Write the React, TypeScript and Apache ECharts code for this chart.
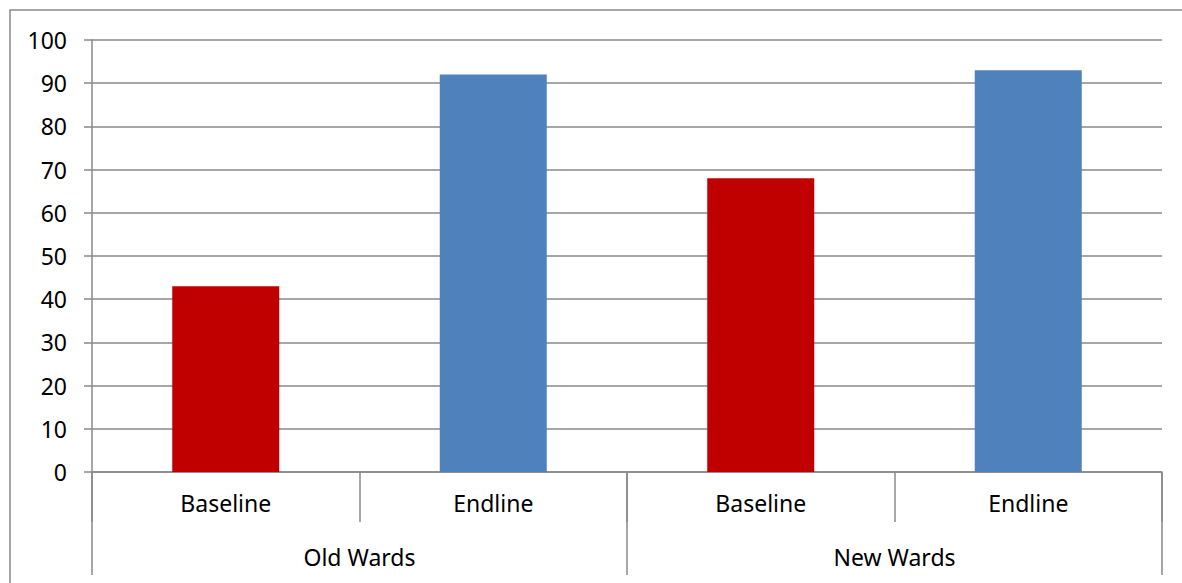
import React, { useEffect, useRef } from "react";
import * as echarts from "echarts";

const innerCategories = ["Baseline", "Endline", "Baseline", "Endline"];
const outerCategories = ["Old Wards", "New Wards"];
const values = [43, 92, 68, 93];
const barColors = ["#C00000", "#4F81BD", "#C00000", "#4F81BD"];
const yTicks = { min: 0, max: 100, interval: 10 };

const FONT = "Noto Sans";
const GRAY = "#898989";

export default function App() {
  const ref = useRef<HTMLDivElement>(null);
  useEffect(() => {
    if (!ref.current) return;
    const chart = echarts.init(ref.current, undefined, { renderer: "svg" });
    chart.setOption({
      animation: false,
      backgroundColor: "#ffffff",
      textStyle: { fontFamily: FONT },
      graphic: [
        {
          type: "rect",
          shape: { x: 10, y: 10, width: 1200, height: 600 },
          style: { fill: "none", stroke: GRAY, lineWidth: 1.5 },
          silent: true,
        },
      ],
      grid: { left: 92, right: 20, top: 40, bottom: 111, containLabel: false },
      xAxis: [
        {
          type: "category",
          data: innerCategories,
          position: "bottom",
          axisLine: { show: true, lineStyle: { color: GRAY, width: 1.5 } },
          axisTick: { show: true, interval: 0, length: 50, lineStyle: { color: GRAY, width: 1.5 } },
          axisLabel: { interval: 0, margin: 19, fontSize: 23, color: "#000", fontFamily: FONT },
          splitLine: { show: false },
        },
        {
          type: "category",
          data: outerCategories,
          position: "bottom",
          axisLine: { show: false },
          axisTick: { show: true, interval: 0, length: 103, lineStyle: { color: GRAY, width: 1.5 } },
          axisLabel: { interval: 0, margin: 73, fontSize: 23, color: "#000", fontFamily: FONT },
          splitLine: { show: false },
        },
      ],
      yAxis: {
        type: "value",
        min: yTicks.min,
        max: yTicks.max,
        interval: yTicks.interval,
        axisLine: { show: true, lineStyle: { color: GRAY, width: 1.5 } },
        axisTick: { show: true, inside: false, length: 8, lineStyle: { color: GRAY, width: 1.5 } },
        axisLabel: { margin: 25, fontSize: 23, color: "#000", fontFamily: FONT },
        splitLine: { show: true, lineStyle: { color: GRAY, width: 1.5 } },
      },
      series: [
        {
          type: "bar",
          xAxisIndex: 0,
          barWidth: "40%",
          data: values.map((v, i) => ({ value: v, itemStyle: { color: barColors[i] } })),
        },
      ],
    });
    return () => chart.dispose();
  }, []);
  return (
    <div
      ref={ref}
      style={{ position: "fixed", left: 0, top: 0, width: 1182, height: 583, background: "#fff" }}
    />
  );
}
